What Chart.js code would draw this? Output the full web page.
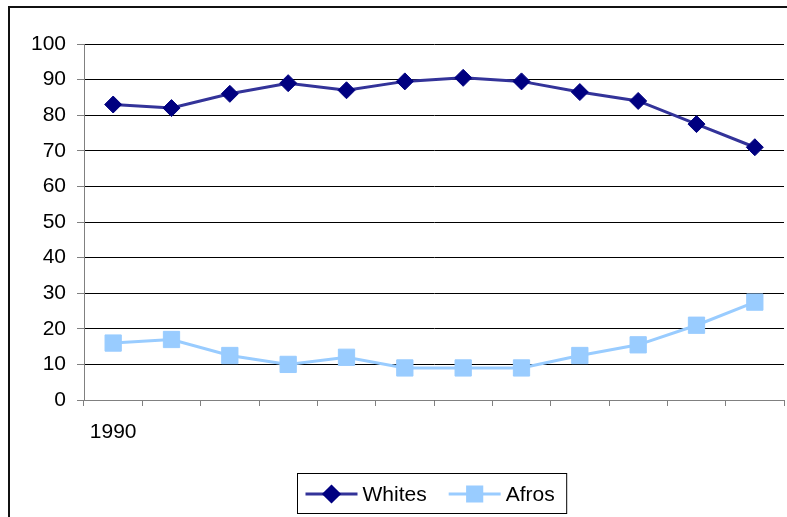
<!DOCTYPE html>
<html>
<head>
<meta charset="utf-8">
<script src="https://cdn.jsdelivr.net/npm/chart.js@4.4.1/dist/chart.umd.min.js"></script>
<style>
  html, body { margin: 0; padding: 0; background: #fff; overflow: hidden; }
  #frame { position: absolute; left: 8px; top: 6px; width: 820px; height: 540px; border: 2px solid #111; }
  #wrap { position: absolute; left: 0; top: 0; width: 787px; height: 517px; }
</style>
</head>
<body>
<div id="frame"></div>
<div id="wrap"><canvas id="lineChart" width="787" height="517"></canvas></div>
<script>
const xLabels = ['1990', '', '', '', '', '', '', '', '', '', '', ''];
const whites = [83, 82, 86, 89, 87, 89.5, 90.5, 89.5, 86.5, 84, 77.5, 71];
const afros = [16, 17, 12.5, 10, 12, 9, 9, 9, 12.5, 15.5, 21, 27.5];
const yTicks = { min: 0, max: 100, step: 10 };

const font = { family: "'Liberation Sans', Arial, sans-serif", size: 21 };

// legend in a box under the plot, like the spreadsheet original
const boxLegend = {
    id: 'boxLegend',
    afterDraw(chart) {
        const ctx = chart.ctx;
        const sets = chart.data.datasets;
        ctx.save();
        ctx.font = font.size + 'px ' + font.family;
        const lineLen = 52, gap = 5, itemGap = 22, padL = 8, padR = 12;
        let total = padL + padR;
        sets.forEach((ds, i) => {
            total += lineLen + gap + ctx.measureText(ds.label).width;
            if (i > 0) total += itemGap;
        });
        const left = Math.round(432 - total / 2) + 0.5;
        const top = 473.5, h = 40, cy = 494;
        ctx.fillStyle = '#fff';
        ctx.fillRect(left, top, total, h);
        ctx.strokeStyle = '#000';
        ctx.lineWidth = 1;
        ctx.strokeRect(left, top, total, h);

        let x = left + padL;
        sets.forEach((ds) => {
            ctx.strokeStyle = ds.borderColor;
            ctx.lineWidth = 3;
            ctx.beginPath();
            ctx.moveTo(x, cy);
            ctx.lineTo(x + lineLen, cy);
            ctx.stroke();
            ctx.fillStyle = ds.pointBackgroundColor;
            ctx.strokeStyle = ds.pointBorderColor;
            Chart.helpers.drawPoint(ctx, {
                pointStyle: ds.pointStyle,
                radius: ds.legendRadius,
                rotation: 0,
                borderWidth: 1
            }, x + lineLen / 2, cy);
            ctx.fillStyle = '#000';
            ctx.textAlign = 'left';
            ctx.textBaseline = 'middle';
            ctx.fillText(ds.label, x + lineLen + gap, cy + 1);
            x += lineLen + gap + ctx.measureText(ds.label).width + itemGap;
        });
        ctx.restore();
    }
};

const ctx = document.getElementById('lineChart').getContext('2d');

new Chart(ctx, {
    type: 'line',
    data: {
        labels: xLabels,
        datasets: [
            {
                label: 'Whites',
                data: whites,
                borderColor: '#333399',
                borderWidth: 3,
                pointStyle: 'rectRot',
                pointRadius: 8.5,
                pointBackgroundColor: '#000080',
                pointBorderColor: '#000080',
                pointBorderWidth: 1,
                legendRadius: 7.5,
                fill: false,
                tension: 0
            },
            {
                label: 'Afros',
                data: afros,
                borderColor: '#99ccff',
                borderWidth: 3,
                pointStyle: 'rect',
                pointRadius: 11.5,
                pointBackgroundColor: '#99ccff',
                pointBorderColor: '#99ccff',
                pointBorderWidth: 1,
                legendRadius: 10,
                fill: false,
                tension: 0
            }
        ]
    },
    options: {
        responsive: false,
        animation: false,
        layout: { autoPadding: false, padding: { top: 44, right: 3, left: 0, bottom: 0 } },
        plugins: {
            legend: { display: false },
            tooltip: { enabled: false }
        },
        scales: {
            x: {
                offset: true,
                grid: {
                    offset: true,
                    drawOnChartArea: false,
                    drawTicks: true,
                    tickLength: 6,
                    tickColor: '#808080'
                },
                border: { color: '#808080', width: 1 },
                ticks: {
                    autoSkip: false,
                    maxRotation: 0,
                    padding: 14,
                    color: '#000',
                    font: font
                },
                afterFit(scale) {
                    scale.height = 117;
                    scale.paddingLeft = 0;
                    scale.paddingRight = 0;
                }
            },
            y: {
                min: yTicks.min,
                max: yTicks.max,
                grid: {
                    color: '#000',
                    tickColor: '#808080',
                    tickLength: 7
                },
                border: { color: '#808080', width: 1 },
                ticks: {
                    stepSize: yTicks.step,
                    padding: 11,
                    color: '#000',
                    font: font
                },
                afterFit(scale) {
                    scale.width = 84;
                    scale.paddingTop = 0;
                    scale.paddingBottom = 0;
                }
            }
        }
    },
    plugins: [boxLegend]
});
</script>
</body>
</html>
